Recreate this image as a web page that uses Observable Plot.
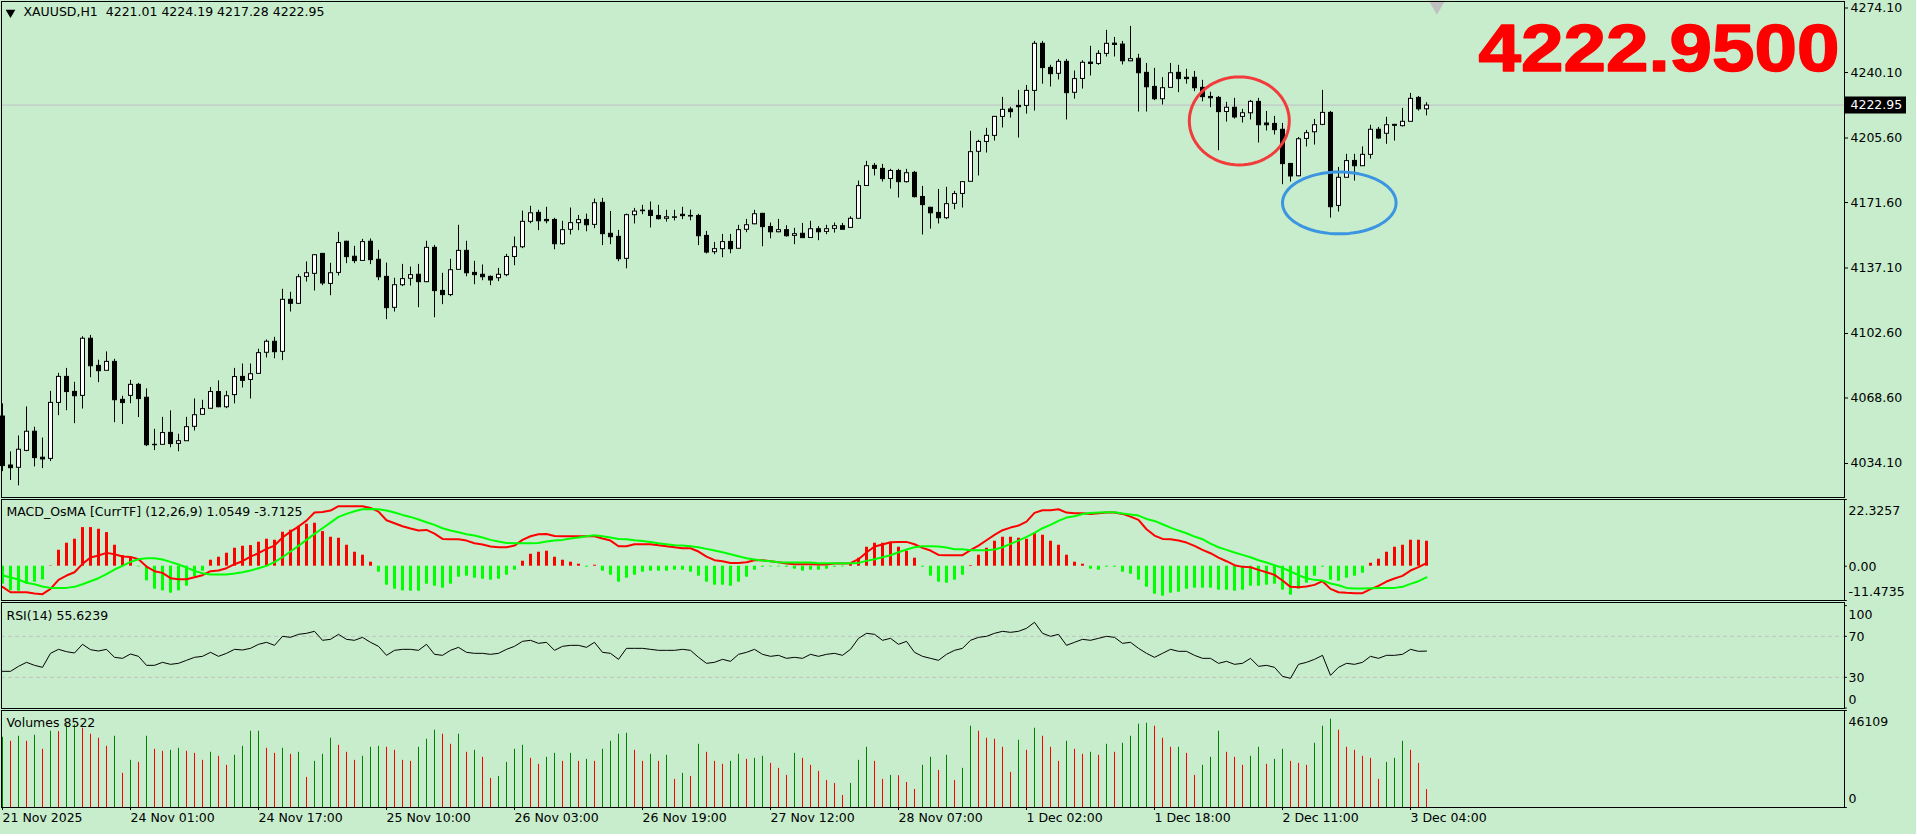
<!DOCTYPE html>
<html>
<head>
<meta charset="utf-8">
<script src="https://cdn.jsdelivr.net/npm/d3@7"></script>
<script src="https://cdn.jsdelivr.net/npm/@observablehq/plot@0.6"></script>
<style>
html, body { margin: 0; background: #fff; }
#chart { position: relative; width: 1916px; height: 834px; background: #C7EDCC; overflow: hidden; }
#chart svg { position: absolute; left: 0; overflow: visible; }
</style>
</head>
<body>
<div id="chart"></div>
<script>
const opens = [
4059.1,4033.3,4032.1,4041.0,4051.1,4037.4,4036.8,4066.3,4080.0,4072.1,
4070.0,4100.1,4085.8,4083.2,4087.9,4067.9,4070.0,4075.8,4069.0,4044.2,
4044.2,4050.5,4044.7,4046.1,4053.7,4060.0,4063.2,4072.0,4064.0,4070.4,
4080.0,4078.4,4081.6,4092.7,4098.5,4093.2,4120.6,4118.5,4132.7,4134.3,
4144.8,4129.0,4134.8,4151.2,4143.3,4141.1,4151.2,4141.7,4132.7,4116.4,
4128.3,4131.7,4133.8,4129.9,4148.0,4125.3,4123.1,4136.4,4146.4,4134.8,
4133.8,4132.7,4132.0,4133.6,4143.2,4148.3,4161.7,4166.4,4162.7,4162.7,
4149.9,4157.5,4161.0,4162.7,4160.1,4171.7,4155.4,4153.8,4142.2,4165.2,
4167.3,4167.5,4164.8,4163.3,4163.8,4165.4,4164.8,4164.8,4154.3,4145.7,
4147.3,4151.1,4147.5,4157.5,4160.4,4165.9,4159.0,4156.2,4157.3,4154.3,
4155.4,4153.2,4157.8,4156.4,4158.0,4159.4,4158.5,4163.3,4180.6,4191.2,
4189.6,4184.3,4188.5,4182.6,4187.5,4174.8,4169.1,4166.4,4163.6,4171.2,
4176.4,4182.8,4198.6,4203.8,4207.0,4217.0,4220.9,4222.8,4222.8,4230.7,
4255.5,4242.8,4239.7,4246.0,4229.7,4237.0,4245.6,4244.9,4250.2,4255.6,
4255.1,4246.3,4247.6,4240.2,4232.8,4226.3,4232.3,4240.2,4237.6,4237.6,
4232.3,4227.5,4227.0,4219.6,4221.8,4217.0,4218.9,4224.9,4213.5,4213.3,
4210.2,4192.2,4185.7,4205.4,4208.9,4212.8,4219.1,4170.1,4184.9,4193.8,
4191.0,4197.0,4210.2,4208.1,4212.8,4212.1,4214.4,4227.0,4221.01];
const closes = [
4033.0,4031.9,4041.6,4051.1,4037.2,4036.5,4066.3,4080.0,4072.0,4069.8,
4100.1,4085.6,4083.0,4087.9,4067.7,4066.2,4075.8,4068.3,4044.0,4044.0,
4050.4,4044.6,4046.1,4053.5,4059.8,4063.0,4072.0,4064.0,4069.8,4079.9,
4077.9,4081.4,4092.5,4098.5,4093.0,4120.6,4118.5,4132.5,4134.6,4144.1,
4129.2,4134.6,4150.5,4143.1,4141.0,4151.0,4141.5,4132.5,4116.2,4128.3,
4131.5,4133.6,4129.9,4148.0,4125.2,4123.1,4136.2,4146.4,4134.6,4133.6,
4132.5,4130.8,4133.8,4143.2,4148.3,4161.7,4166.2,4162.0,4162.0,4149.9,
4157.3,4161.0,4162.6,4159.9,4171.5,4155.2,4153.6,4142.0,4165.2,4167.1,
4167.6,4164.8,4163.1,4164.1,4164.1,4164.7,4164.5,4154.1,4145.5,4147.3,
4151.0,4147.3,4157.3,4159.9,4165.7,4158.9,4156.2,4157.3,4154.1,4155.2,
4153.1,4157.8,4156.2,4157.8,4159.4,4157.5,4163.3,4180.5,4191.0,4189.6,
4184.2,4188.5,4182.6,4187.3,4174.7,4170.5,4166.2,4163.6,4171.0,4176.3,
4182.6,4198.4,4203.8,4207.0,4217.0,4220.7,4219.5,4222.1,4230.7,4255.5,
4242.7,4239.5,4246.0,4229.5,4236.9,4245.5,4244.9,4250.2,4255.5,4254.9,
4246.3,4247.4,4240.0,4232.6,4226.3,4232.1,4240.0,4236.9,4236.9,4232.1,
4227.4,4226.8,4219.5,4221.8,4216.7,4218.9,4224.9,4212.6,4212.6,4210.0,
4192.1,4185.6,4205.2,4208.4,4212.6,4219.1,4169.4,4184.9,4193.7,4191.0,
4197.0,4210.2,4205.6,4212.6,4212.3,4214.4,4226.5,4221.0,4222.95];
const highs = [
4065.5,4040.2,4048.6,4063.9,4053.2,4047.5,4072.1,4081.6,4084.2,4076.9,
4100.9,4101.6,4088.5,4092.9,4089.0,4069.5,4077.9,4076.3,4073.4,4052.1,
4058.4,4061.8,4049.5,4058.4,4068.1,4067.4,4074.1,4077.6,4072.1,4084.2,
4086.5,4086.5,4094.3,4099.2,4100.6,4125.9,4124.3,4133.6,4140.3,4144.1,
4144.8,4139.6,4155.9,4151.2,4148.5,4152.2,4152.4,4146.4,4139.7,4131.7,
4139.0,4137.6,4139.0,4151.2,4149.0,4134.3,4141.7,4159.6,4151.2,4140.6,
4138.7,4132.9,4136.9,4144.3,4153.4,4167.1,4169.6,4167.5,4169.1,4163.3,
4161.7,4168.7,4164.8,4165.5,4173.4,4173.8,4166.9,4156.9,4165.5,4168.5,
4170.1,4171.9,4170.1,4167.5,4167.5,4169.1,4167.6,4165.4,4156.4,4150.6,
4154.8,4154.8,4159.6,4162.7,4167.5,4165.9,4160.8,4162.7,4159.4,4158.0,
4160.6,4161.7,4158.9,4159.6,4160.8,4160.6,4164.1,4182.9,4193.3,4192.2,
4191.7,4189.1,4189.1,4189.1,4188.0,4180.1,4169.1,4178.5,4179.6,4177.5,
4182.6,4209.1,4204.4,4210.7,4217.0,4227.0,4221.8,4230.7,4233.3,4256.5,
4256.5,4243.9,4247.0,4247.0,4240.9,4246.3,4253.9,4251.6,4262.3,4258.6,
4256.5,4264.4,4249.7,4244.9,4242.3,4237.4,4244.9,4243.9,4241.8,4240.7,
4236.0,4229.7,4227.5,4224.4,4226.5,4220.7,4225.4,4226.5,4219.6,4217.0,
4213.3,4192.2,4205.9,4209.6,4215.4,4230.7,4219.6,4190.1,4197.0,4197.0,
4200.9,4212.3,4211.2,4216.5,4212.8,4221.2,4229.1,4227.5,4224.19];
const lows = [
4029.8,4025.1,4022.3,4040.3,4032.3,4031.4,4035.1,4059.3,4061.9,4055.1,
4062.8,4079.3,4076.7,4083.2,4055.6,4054.6,4065.6,4058.3,4043.0,4040.9,
4044.2,4042.4,4040.3,4045.8,4051.2,4060.0,4063.0,4063.5,4063.0,4065.5,
4073.9,4068.1,4081.6,4089.7,4089.3,4088.3,4113.9,4118.0,4129.7,4125.0,
4127.8,4122.5,4132.9,4139.4,4139.4,4141.1,4138.9,4130.4,4109.9,4113.9,
4127.3,4127.6,4116.2,4129.4,4110.9,4117.8,4122.0,4136.4,4132.5,4128.3,
4130.4,4127.8,4129.9,4132.5,4138.3,4147.3,4160.4,4156.8,4160.4,4146.7,
4149.2,4154.5,4156.8,4156.2,4157.8,4148.9,4149.4,4140.4,4136.7,4160.3,
4165.2,4158.2,4162.4,4161.3,4161.9,4162.6,4162.0,4148.9,4144.5,4144.1,
4142.5,4144.6,4147.3,4155.7,4159.9,4148.3,4152.5,4155.7,4153.4,4149.4,
4152.9,4153.1,4151.5,4154.7,4155.5,4157.3,4158.3,4163.1,4180.5,4185.6,
4182.4,4178.7,4174.0,4181.9,4174.0,4154.5,4157.6,4160.3,4162.6,4167.8,
4168.7,4182.6,4185.6,4197.7,4204.0,4210.9,4216.1,4205.6,4218.2,4219.8,
4234.0,4232.5,4236.2,4215.1,4226.1,4231.4,4238.3,4243.9,4248.3,4248.3,
4244.1,4245.8,4219.3,4219.3,4225.3,4223.0,4232.1,4229.5,4234.0,4230.0,
4224.7,4221.6,4198.9,4214.0,4215.6,4213.5,4215.1,4203.0,4209.3,4207.2,
4181.0,4182.4,4185.2,4200.9,4201.9,4212.1,4163.4,4166.6,4184.7,4182.9,
4190.8,4194.5,4204.9,4202.3,4204.0,4211.4,4214.2,4219.8,4217.28];

const osma = [
-6.02,-8.25,-8.36,-6.02,-5.35,-4.57,0.11,5.35,7.69,9.03,
12.93,12.93,12.37,11.26,7.02,3.57,2.68,-0.22,-4.91,-7.69,
-8.25,-9.03,-8.25,-6.69,-3.46,-1.67,2.01,3.01,4.35,6.02,
6.69,6.91,8.03,9.03,8.70,11.37,12.04,13.38,14.05,14.38,
11.59,9.70,9.36,7.02,4.68,3.68,1.34,-2.01,-6.35,-7.69,
-8.25,-8.36,-8.36,-6.02,-6.69,-7.36,-6.02,-3.68,-3.34,-4.01,
-4.35,-4.68,-4.35,-3.01,-1.34,1.67,4.01,4.68,5.02,3.01,
2.01,1.34,0.67,-0.33,0.33,-1.67,-3.01,-5.35,-4.01,-3.01,
-2.01,-1.67,-1.67,-1.67,-1.34,-1.34,-2.01,-3.34,-5.35,-6.35,
-6.35,-6.69,-5.35,-3.68,-1.34,-0.33,-0.22,-0.22,-0.33,-1.00,
-1.67,-1.34,-1.34,-1.00,-0.33,-0.22,0.67,2.68,6.35,7.69,
7.69,7.69,6.35,5.02,2.68,-0.33,-3.34,-5.35,-5.69,-4.68,
-3.01,0.22,3.68,6.02,8.36,9.70,9.70,9.36,9.03,11.04,
10.37,8.36,7.02,3.68,1.34,0.67,-1.00,-1.34,-0.33,-0.33,
-2.01,-2.68,-4.68,-7.02,-9.36,-10.03,-9.03,-8.70,-7.69,-7.36,
-7.36,-7.36,-8.03,-8.03,-8.36,-8.03,-6.69,-6.69,-6.35,-6.02,
-8.03,-9.70,-7.69,-5.69,-3.34,-0.33,-4.68,-5.02,-4.01,-3.34,
-2.34,1.00,2.34,4.68,6.35,7.02,8.70,8.70,8.36];
const macd = [
-6.91,-8.70,-8.70,-8.70,-9.14,-9.36,-7.58,-4.57,-3.12,-2.01,
0.78,2.90,3.57,4.46,4.01,3.23,3.12,2.34,-0.11,-1.67,
-2.23,-4.01,-4.35,-4.35,-3.68,-3.01,-1.67,-1.45,-0.67,0.67,
1.67,3.23,4.35,5.80,6.91,9.59,11.59,13.27,15.27,17.95,
18.17,18.62,20.07,20.07,20.07,20.07,19.51,18.28,15.38,14.38,
13.38,12.60,11.93,12.15,10.93,9.14,9.03,9.03,8.58,7.69,
7.25,6.58,6.35,6.35,6.91,8.81,10.03,10.70,10.81,10.14,
10.03,10.03,10.03,10.03,10.03,9.25,8.58,6.69,6.69,7.36,
7.36,7.36,7.02,6.69,6.35,6.02,6.02,4.91,3.23,2.01,
1.67,1.11,1.11,1.34,2.01,2.01,1.67,1.34,0.89,0.67,
0.67,0.67,0.56,0.56,0.89,0.89,1.00,2.34,4.57,6.58,
7.25,8.03,8.14,8.14,7.36,6.13,5.24,3.79,3.68,3.68,
3.68,5.35,6.91,8.70,10.48,12.04,12.93,13.60,14.94,17.84,
18.73,18.73,19.06,17.95,17.73,17.73,17.50,17.73,17.95,17.95,
17.50,16.61,15.50,12.37,10.26,9.14,9.03,8.58,7.92,6.80,
5.46,4.35,2.90,1.67,0.33,-0.22,-0.33,-1.23,-2.01,-2.90,
-4.79,-6.91,-7.02,-6.80,-6.24,-5.02,-7.58,-8.70,-8.92,-9.03,
-9.03,-7.69,-6.58,-5.13,-4.12,-3.23,-1.45,-0.33,1.05];
const signal = [
-3.01,-3.79,-4.46,-5.57,-6.02,-6.80,-7.25,-7.25,-7.25,-6.91,
-6.02,-5.02,-4.01,-2.68,-1.11,0.11,1.45,2.34,2.68,2.68,
2.23,1.45,0.56,-0.45,-1.56,-2.34,-2.79,-2.79,-2.79,-2.45,
-2.01,-1.45,-0.67,0.11,1.34,3.01,4.91,6.80,8.81,10.81,
12.71,14.60,16.50,17.50,18.39,19.06,19.18,19.06,18.62,17.95,
17.17,16.50,15.61,14.72,13.82,12.71,11.93,11.37,10.70,10.26,
9.59,8.81,8.25,7.80,7.69,7.69,7.69,7.80,8.25,8.58,
8.81,9.25,9.59,10.03,10.37,10.03,9.59,9.14,9.03,8.70,
8.47,8.14,7.69,7.36,7.02,6.91,6.69,6.35,5.80,5.24,
4.68,4.01,3.34,2.68,2.23,1.90,1.67,1.34,1.23,1.23,
1.23,1.23,1.00,1.00,1.00,1.00,1.00,1.11,1.78,2.34,
3.01,3.68,4.68,5.57,6.35,6.69,6.69,6.58,6.24,5.69,
5.69,5.35,5.35,5.35,5.57,6.35,7.47,8.58,9.81,11.15,
12.71,13.82,15.16,16.28,16.72,17.50,17.84,17.95,18.06,18.06,
17.61,17.28,16.95,15.83,15.16,14.05,12.93,11.93,11.04,9.92,
9.03,7.58,6.35,5.46,4.57,3.79,3.01,2.01,1.23,0.33,
-0.56,-1.78,-3.01,-4.01,-4.57,-4.79,-5.80,-6.35,-7.25,-7.47,
-7.47,-7.36,-7.25,-7.25,-7.25,-6.91,-5.91,-5.02,-3.71];
const rsi = [
35.85,35.85,40.73,44.63,41.71,39.76,53.41,57.32,55.04,53.74,
62.20,56.99,55.69,57.32,49.51,48.54,52.76,50.49,41.71,41.71,
44.63,42.68,43.66,46.59,49.51,50.49,54.39,50.49,53.41,57.32,
56.67,58.29,62.20,64.15,61.22,70.00,69.02,71.95,72.93,74.88,
66.10,67.07,71.95,67.07,66.10,69.02,64.15,60.24,51.46,56.34,
57.32,57.32,56.34,62.20,52.44,51.46,56.34,59.27,54.39,53.41,
53.41,52.44,53.41,57.32,60.24,65.12,66.10,63.17,64.15,56.34,
60.24,61.22,61.22,59.27,64.15,54.39,53.41,47.56,58.29,58.29,
58.29,57.32,56.34,56.34,56.34,57.32,56.34,49.51,43.66,44.63,
47.56,45.61,52.44,54.39,57.32,52.44,50.49,51.46,48.54,49.51,
48.54,52.44,50.49,52.44,53.41,51.46,57.32,68.05,72.93,71.95,
66.10,68.05,62.20,65.12,54.39,50.49,48.54,46.59,52.44,56.34,
58.29,66.10,69.02,70.00,72.93,74.88,73.90,74.88,77.80,83.66,
72.93,70.00,71.95,61.22,64.15,67.07,66.10,68.05,70.00,69.02,
63.17,64.15,58.29,53.41,49.51,53.41,57.32,55.37,55.37,51.46,
48.54,48.54,43.66,45.61,42.68,43.66,48.54,40.73,41.71,39.76,
30.98,29.02,42.68,44.63,47.56,51.46,31.95,39.76,43.66,42.68,
44.63,50.49,48.54,51.46,51.46,52.44,57.32,55.37,55.62];
const volumes = [
33390,31482,33867,31482,34344,27666,36252,36093,39273,39273,
37683,34821,32913,29097,33867,16218,22419,21465,33867,27666,
26712,27189,28143,26712,25758,22419,26235,24327,20034,24804,
29097,36252,36252,28143,25758,28143,25281,26235,14310,21942,
25281,32913,29574,26235,22419,24327,28620,29097,28620,27189,
22419,21942,28620,32436,36729,34821,30051,34821,26235,27189,
23850,13833,14787,21465,27666,29574,23373,20511,23850,25758,
21942,25758,21942,22896,21942,27666,31482,34821,35298,27189,
21942,25281,21942,24804,13356,16218,14787,30051,26235,21942,
20511,21942,25281,22896,23373,24327,20988,18603,15264,25758,
23373,20034,17172,12879,11448,5724,11448,22419,28620,21942,
13356,15264,15105,11925,8586,20034,23850,17649,24804,12879,
18603,38637,36252,32913,32436,28620,16695,31959,27189,37683,
33867,28620,21942,31482,27666,25281,26235,24804,30051,26235,
30528,33867,39591,40068,38637,32913,28620,28620,25758,15264,
20034,23850,36252,26235,23850,20034,24327,28620,20511,22896,
27666,21942,20988,20034,30528,38637,41976,36729,28620,27189,
24327,23373,13356,21465,23373,31482,27189,20988,8522];

const priceTicks = [4274.10,4240.10,4205.60,4171.60,4137.10,4102.60,4068.60,4034.10];
const lastPrice = 4222.95;
const bigPriceLabel = "4222.9500";
const mainHeader = "XAUUSD,H1  4221.01 4224.19 4217.28 4222.95";
const macdHeader = "MACD_OsMA [CurrTF] (12,26,9) 1.0549 -3.7125";
const rsiHeader = "RSI(14) 55.6239";
const volumeHeader = "Volumes 8522";
const tickBars = [0,16,32,48,64,80,96,112,128,144,160,176];
const tickLabels = ["21 Nov 2025","24 Nov 01:00","24 Nov 17:00","25 Nov 10:00","26 Nov 03:00","26 Nov 19:00","27 Nov 12:00","28 Nov 07:00","1 Dec 02:00","1 Dec 18:00","2 Dec 11:00","3 Dec 04:00"];
const rings = [
    {bar: 154.6, price: 4214.6, bars: 6.25, usd: 23.2, stroke: "#F23B3B"},
    {bar: 167.1, price: 4171.4, bars: 7.1, usd: 16.3, stroke: "#3B95E0"},
];

const fontFamily = "'DejaVu Sans', sans-serif";
const fontSize = 12.5;
const xDomain = [-0.125, 230.25];
const bars = d3.range(opens.length);
const candles = bars.map(i => ({
    i, o: opens[i], h: highs[i], l: lows[i], c: closes[i],
}));

function panel(top, height, marginBottom, yDomain, marks) {
    const svg = Plot.plot({
        width: 1916,
        height,
        marginLeft: 1,
        marginRight: 72,
        marginTop: 1,
        marginBottom,
        style: {background: "transparent", fontFamily, fontSize: fontSize + "px", color: "#000"},
        x: {domain: xDomain, axis: null},
        y: {domain: yDomain, axis: null},
        marks: [...marks, Plot.frame({stroke: "#000"})],
    });
    svg.style.top = top + "px";
    document.getElementById("chart").appendChild(svg);
    return svg;
}

// header text in the top left of a panel
function header(text, dx, dy) {
    return Plot.text([text], {
        frameAnchor: "top-left", dx, dy, lineAnchor: "top",
        fontSize, fill: "#000",
    });
}

// scale labels of the indicator panels sit off their value near the edges
function sideLabel(value, text, dy) {
    return Plot.text([value], {
        x: xDomain[1], y: d => d, text: () => text, dx: 4, dy,
        textAnchor: "start", fontSize, fill: "#000",
    });
}
function sideTicks(values) {
    return Plot.ruleY(values, {x1: xDomain[1], x2: xDomain[1] + 0.35, stroke: "#000"});
}

const mainSvg = panel(0, 498, 1, [4016.18, 4277.53], [
    Plot.ruleY([lastPrice], {stroke: "#C4BFCB"}),
    Plot.ruleX(candles, {x: "i", y1: "l", y2: "h", stroke: "#000"}),
    Plot.rect(candles, {
        x1: d => d.i - 0.25,
        x2: d => d.i + 0.25,
        y1: "o",
        y2: "c",
        dx: 0.5,
        dy: 0.5,
        fill: d => d.c >= d.o ? "#fff" : "#000",
        stroke: "#000",
    }),
    Plot.axisY({
        anchor: "right", ticks: priceTicks, tickFormat: d3.format(".2f"),
        tickSize: 3, tickPadding: 3, fontSize, fill: "#000",
    }),
    Plot.ruleY([lastPrice], {x1: 230.3, x2: 238, stroke: "#000", strokeWidth: 17}),
    Plot.text([lastPrice], {
        x: xDomain[1], y: d => d, text: d => d.toFixed(2), dx: 6,
        textAnchor: "start", fontSize, fill: "#fff",
    }),
    ...rings.map(r => Plot.line(d3.range(0, 361, 5), {
        x: a => r.bar + r.bars * Math.cos(a * Math.PI / 180),
        y: a => r.price + r.usd * Math.sin(a * Math.PI / 180),
        stroke: r.stroke,
        strokeWidth: 3,
    })),
    Plot.text([bigPriceLabel], {
        frameAnchor: "top-right", dx: -5, dy: 23, lineAnchor: "top",
        fontFamily: "'Liberation Sans', Arial, sans-serif",
        fontSize: 66, fontWeight: "bold", fill: "#FF0000", stroke: "#FF0000", strokeWidth: 1.5,
        className: "big-price",
    }),
    Plot.dot([179.3], {
        x: d => d, frameAnchor: "top", dy: 4, symbol: "triangle", rotate: 180, r: 6,
        fill: "#C0C0C0",
    }),
    Plot.dot([1], {
        x: d => d, frameAnchor: "top", dy: 11, symbol: "triangle", rotate: 180, r: 3.6,
        fill: "#000",
    }),
    header(mainHeader, 22, 6),
]);
// Arial Black is not installed, so stretch the bold face to its width
mainSvg.querySelector(".big-price text").setAttribute("textLength", 361);
mainSvg.querySelector(".big-price text").setAttribute("lengthAdjust", "spacingAndGlyphs");

panel(498, 103, 1, [-11.4735, 22.3257], [
    Plot.ruleX(bars, {
        x: d => d, y1: 0, y2: i => osma[i],
        stroke: i => osma[i] >= 0 ? "#FF0000" : "#00FF00",
        strokeWidth: 3,
    }),
    Plot.line(bars, {x: d => d, y: i => macd[i], stroke: "#FF0000", strokeWidth: 2}),
    Plot.line(bars, {x: d => d, y: i => signal[i], stroke: "#00FF00", strokeWidth: 2}),
    sideTicks([22.3257, 0, -11.4735]),
    sideLabel(22.3257, "22.3257", 11),
    sideLabel(0, "0.00", 1),
    sideLabel(-11.4735, "-11.4735", -9),
    header(macdHeader, 5, 8),
]);

panel(601, 108, 1, [-0.4, 103], [
    Plot.ruleY([70, 30], {stroke: "#C0C0C0", strokeDasharray: "4 3"}),
    Plot.line(bars, {x: d => d, y: i => rsi[i], stroke: "#000", strokeWidth: 1}),
    sideTicks([100, 70, 30, 0]),
    sideLabel(100, "100", 9),
    sideLabel(70, "70", 1),
    sideLabel(30, "30", 1),
    sideLabel(0, "0", -8),
    header(rsiHeader, 5, 9),
]);

panel(709, 125, 27, [0, 46109], [
    Plot.ruleX(bars, {
        x: d => d, y1: 0, y2: i => volumes[i],
        stroke: i => i == 0 || volumes[i] >= volumes[i - 1] ? "#008000" : "#FF0000",
    }),
    Plot.axisX({
        anchor: "bottom", ticks: tickBars,
        tickFormat: d => tickLabels[tickBars.indexOf(d)],
        textAnchor: "start", tickSize: 3, tickPadding: 3, fontSize, fill: "#000",
    }),
    sideTicks([46109, 0]),
    sideLabel(46109, "46109", 11),
    sideLabel(0, "0", -9),
    header(volumeHeader, 5, 8),
]);
</script>
</body>
</html>
